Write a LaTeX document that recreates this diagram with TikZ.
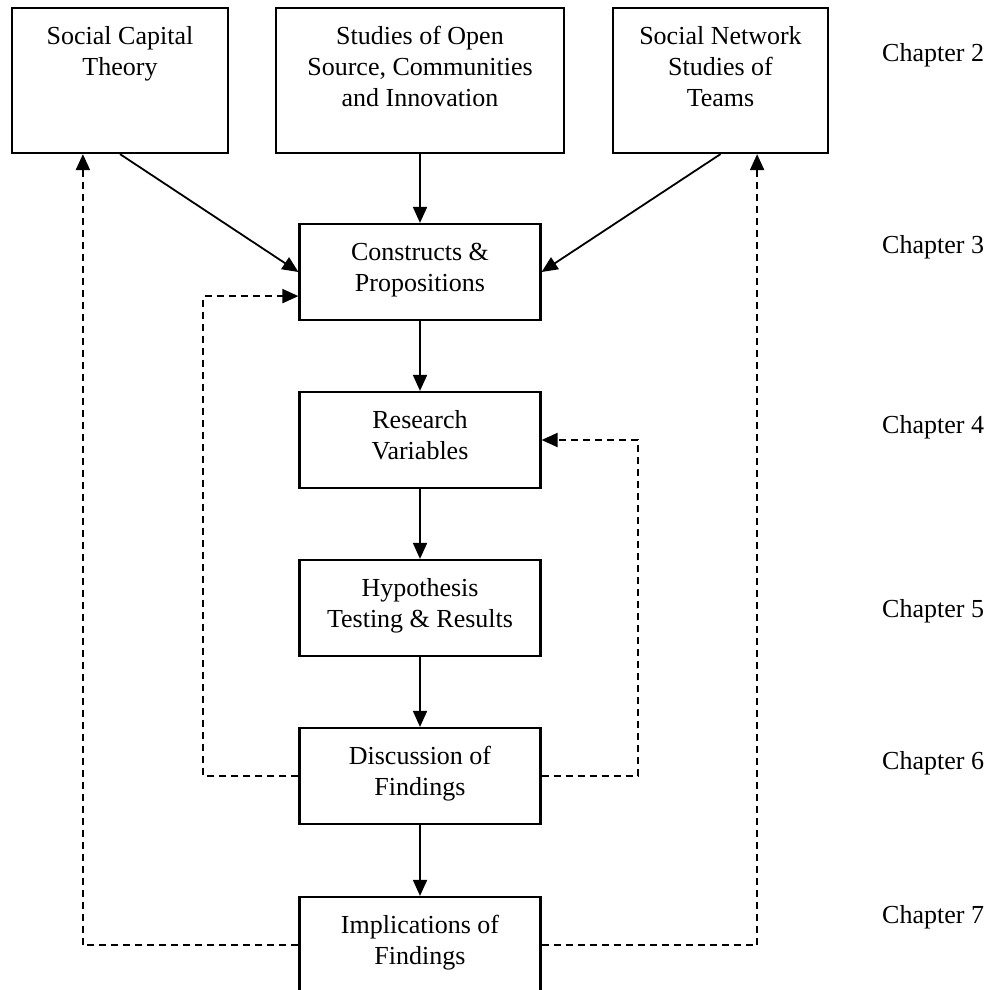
\documentclass[tikz,border=0pt]{standalone}
\usepackage{fontspec}
\setmainfont{Liberation Serif}
\usetikzlibrary{arrows.meta,calc}
% top-aligned, centred lines inside a box of fixed height
\newcommand{\boxlines}[3]{\parbox[c][#1][t]{#2}{\centering\strut #3}}
\begin{document}
\begin{tikzpicture}[x=1pt,y=-1pt,
  every node/.style={font=\fontsize{26}{31}\selectfont},
  box/.style={draw, line width=2.2pt, inner sep=0pt},
  topbox/.style={box, minimum height=145pt},
  stepbox/.style={box, minimum width=241pt, minimum height=96pt},
  flow/.style={line width=1.8pt, -{Triangle[length=16pt,width=14pt]}},
  loop/.style={line width=2pt, dash pattern=on 7pt off 5pt,
               -{Triangle[length=16pt,width=14pt]}},
  chap/.style={anchor=west, inner sep=0pt}]
\useasboundingbox (0,0) rectangle (990,990);
\clip (0,0) rectangle (990,990);

% literature boxes
\node[topbox, minimum width=216pt] (sct) at (120,80.5)
  {\boxlines{115pt}{200pt}{Social Capital\\Theory}};
\node[topbox, minimum width=288pt] (osc) at (420,80.5)
  {\boxlines{115pt}{270pt}{Studies of Open\\Source, Communities\\and Innovation}};
\node[topbox, minimum width=215pt] (snst) at (720.5,80.5)
  {\boxlines{115pt}{200pt}{Social Network\\Studies of\\Teams}};

% main research steps
\node[stepbox] (con) at (420,272) {\boxlines{66pt}{225pt}{Constructs \&\\Propositions}};
\node[stepbox] (res) at (420,440) {\boxlines{66pt}{225pt}{Research\\Variables}};
\node[stepbox] (hyp) at (420,608) {\boxlines{66pt}{225pt}{Hypothesis\\Testing \& Results}};
\node[stepbox] (dis) at (420,776) {\boxlines{66pt}{225pt}{Discussion of\\Findings}};
\node[stepbox] (imp) at (420,945) {\boxlines{66pt}{225pt}{Implications of\\Findings}};

% chapter labels
\node[chap] (ch2) at (882,55) {Chapter 2};
\node[chap] (ch3) at (882,247) {Chapter 3};
\node[chap] (ch4) at (882,427) {Chapter 4};
\node[chap] (ch5) at (882,611) {Chapter 5};
\node[chap] (ch6) at (882,763) {Chapter 6};
\node[chap] (ch7) at (882,917) {Chapter 7};

% forward flow
\draw[flow] (sct.south) -- (con.west);
\draw[flow] (osc.south) -- (con.north);
\draw[flow] (snst.south) -- (con.east);
\draw[flow] (con.south) -- (res.north);
\draw[flow] (res.south) -- (hyp.north);
\draw[flow] (hyp.south) -- (dis.north);
\draw[flow] (dis.south) -- (imp.north);

% feedback loops
\draw[loop] (dis.west) -- ++(-95,0) |- ($(con.south west)+(0,-25)$);
\draw[loop] (dis.east) -- ++(96,0) |- (res.east);
\draw[loop] (imp.west) -| ($(sct.south west)+(72,0)$);
\draw[loop] (imp.east) -| ($(snst.south east)+(-72,0)$);
\end{tikzpicture}
\end{document}
